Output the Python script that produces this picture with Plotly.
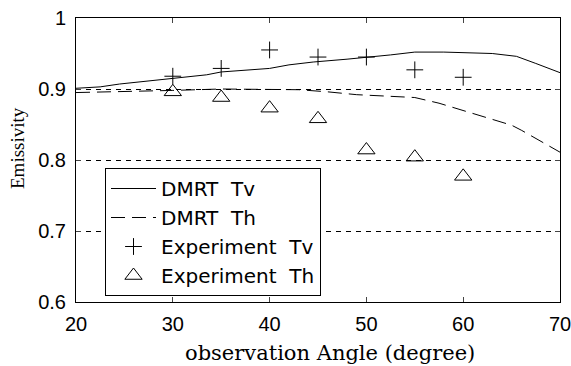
import plotly.graph_objects as go

# DMRT model curves
dmrt_tv_x = [20, 22.5, 24.5, 26.5, 28.5, 30.5, 33.5, 35, 40, 42, 44.5, 48, 50.5, 52.5, 55, 58, 63, 65.5, 67.5, 70]
dmrt_tv_y = [0.901, 0.903, 0.907, 0.910, 0.913, 0.915, 0.920, 0.924, 0.929, 0.934, 0.938, 0.942, 0.945, 0.948, 0.952, 0.952, 0.950, 0.946, 0.936, 0.923]

dmrt_th_x = [20, 25, 30, 35, 40, 43, 46, 49, 52, 55, 57.5, 60.5, 62, 65, 66, 69.3, 70]
dmrt_th_y = [0.895, 0.896, 0.898, 0.900, 0.900, 0.899, 0.896, 0.892, 0.890, 0.888, 0.880, 0.868, 0.862, 0.849, 0.842, 0.817, 0.811]

# Experiment
exp_angles = [30, 35, 40, 45, 50, 55, 60]
exp_tv = [0.918, 0.929, 0.955, 0.945, 0.945, 0.927, 0.9165]
exp_th = [0.896, 0.888, 0.873, 0.858, 0.814, 0.804, 0.777]

x_ticks = [20, 30, 40, 50, 60, 70]
y_ticks = [0.6, 0.7, 0.8, 0.9, 1.0]
y_tick_text = ["0.6", "0.7", "0.8", "0.9", "1"]

fig = go.Figure()
fig.add_trace(go.Scatter(x=dmrt_tv_x, y=dmrt_tv_y, mode="lines", name="DMRT  Tv",
                         line=dict(color="black", width=1), legendgroup="a"))
fig.add_trace(go.Scatter(x=dmrt_th_x, y=dmrt_th_y, mode="lines", name="DMRT  Th",
                         line=dict(color="black", width=1, dash="14px,7px"), legendgroup="b"))
fig.add_trace(go.Scatter(x=exp_angles, y=exp_tv, mode="markers", name="Experiment  Tv",
                         marker=dict(symbol="cross-thin", size=12, color="black",
                                     line=dict(color="black", width=1)), legendgroup="c"))
fig.add_trace(go.Scatter(x=exp_angles, y=exp_th, mode="markers", name="Experiment  Th",
                         marker=dict(symbol="triangle-up-open", size=15, color="black",
                                     line=dict(color="black", width=1)), legendgroup="d"))

fig.update_layout(
    width=571, height=366,
    margin=dict(l=76, r=11, t=18, b=64, autoexpand=False),
    paper_bgcolor="white", plot_bgcolor="white",
    showlegend=True,
    legend=dict(x=(105 - 76) / 484, y=(302 - 168) / 284, xanchor="left", yanchor="top",
                bgcolor="white", bordercolor="black", borderwidth=1,
                font=dict(family="DejaVu Sans", size=20, color="black"),
                tracegroupgap=0, itemwidth=45),
    font=dict(family="Liberation Sans, Arial", size=20, color="black"),
)
fig.update_xaxes(range=[20, 70], tickvals=x_ticks, ticks="inside", ticklen=5,
                 showline=True, linecolor="black", linewidth=1, mirror="allticks",
                 showgrid=False, zeroline=False, automargin=False, ticklabelstandoff=4,
                 ticklabeloverflow="allow",
                 tickfont=dict(family="Liberation Sans, Arial", size=20, color="black"))
fig.update_yaxes(range=[0.6, 1.0], tickvals=y_ticks, ticktext=y_tick_text,
                 ticks="inside", ticklen=5, automargin=False, ticklabelstandoff=5,
                 ticklabeloverflow="allow",
                 showline=True, linecolor="black", linewidth=1, mirror="allticks",
                 showgrid=True, gridcolor="black", gridwidth=1, griddash="5px,5px",
                 zeroline=False,
                 tickfont=dict(family="Liberation Sans, Arial", size=20, color="black"))

fig.add_annotation(text="observation Angle (degree)", xref="paper", yref="paper",
                   x=(330 - 76) / 484, y=-(353 - 302) / 284, xanchor="center", yanchor="middle",
                   showarrow=False, font=dict(family="DejaVu Serif", size=21, color="black"))
fig.add_annotation(text="Emissivity", xref="paper", yref="paper",
                   x=-(76 - 18) / 484, y=(302 - 148) / 284, xanchor="center", yanchor="middle",
                   textangle=-90, showarrow=False,
                   font=dict(family="Liberation Serif, Times New Roman", size=19, color="black"))

fig.write_html("out.html")
